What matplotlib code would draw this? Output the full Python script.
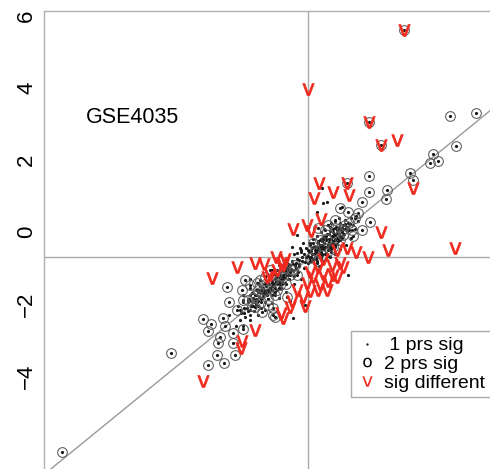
import matplotlib
matplotlib.use("Agg")
import matplotlib.pyplot as plt
from matplotlib.lines import Line2D

plt.rcParams['font.family'] = ['Liberation Sans', 'DejaVu Sans']

# 1 prs sig (small dots)
sig1_x = [-0.05, 0.02, 0.05, 0.10, 0.12, 0.15, 0.18, 0.20, 0.22, 0.25,
          0.28, 0.30, 0.32, 0.35, 0.36, 0.38, 0.40, 0.42, 0.44, 0.46,
          0.48, 0.50, 0.52, 0.54, 0.56, 0.58, 0.60, 0.62, 0.64, 0.66,
          0.68, 0.70, 0.72, 0.74, 0.76, 0.78, 0.80, 0.83, 0.85, 0.88,
          0.90, 0.93, 0.96, 1.00, 1.03, 1.06, 1.10, 1.15, 1.20, 1.25,
          1.32, 1.40, 0.45, 0.55, 0.65, 0.35, 0.25, 0.75, 0.60,
          0.00, 0.00, 0.00, 0.08, 0.08, 0.14, 0.14, 0.14, 0.21, 0.21,
          0.27, 0.27, 0.27, 0.33, 0.33, 0.39, 0.39, 0.39, 0.45, 0.45,
          0.45, 0.51, 0.51, 0.51, 0.57, 0.57, 0.57, 0.63, 0.63, 0.63,
          0.69, 0.69, 0.69, 0.75, 0.75, 0.75, 0.81, 0.81, 0.81, 0.87,
          0.87, 0.87, 0.95, 0.95, 0.95, 1.02, 1.02, 1.09, 1.09, 1.17,
          0.05, 0.15, 0.25, 0.35, 0.45, 0.55, 0.65, 0.85, 0.30, 0.45,
          0.60, 0.75, 0.90, 1.05, 1.20, 1.30, 0.20, 0.50,
          -1.95, -1.90, -1.85, -1.80, -1.75, -1.70, -1.65, -1.62, -1.58, -1.55,
          -1.50, -1.47, -1.44, -1.40, -1.36, -1.33, -1.30, -1.26, -1.22, -1.20,
          -1.16, -1.12, -1.10, -1.06, -1.03, -1.00, -0.97, -0.94, -0.91, -0.88,
          -0.85, -0.82, -0.79, -0.76, -0.73, -0.70, -0.66, -0.63, -0.60, -0.56,
          -0.52, -0.48, -0.44, -0.40, -0.36, -0.32, -0.28, -0.24, -0.18, -0.12,
          -0.08, -1.00, -0.90, -0.80, -0.70, -1.10, -0.60, -0.95, -0.75, -1.25,
          -1.15, -0.55, -0.85,
          -1.88, -1.78, -1.78, -1.68, -1.68, -1.60, -1.60, -1.60, -1.52, -1.52,
          -1.45, -1.45, -1.45, -1.38, -1.38, -1.31, -1.31, -1.31, -1.24, -1.24,
          -1.18, -1.18, -1.18, -1.08, -1.08, -1.08, -1.01, -1.01, -0.93, -0.93,
          -0.93, -0.86, -0.86, -0.86, -0.78, -0.78, -0.78, -0.71, -0.71, -0.64,
          -0.64, -0.64, -0.57, -0.57, -0.50, -0.50, -0.42, -0.42, -0.34, -0.34,
          -0.26, -0.26, -0.16, -0.20, -0.10, 0.05, -0.05,
          -1.80, -1.80, -1.60, -1.60, -1.40, -1.40, -1.20, -1.20, -1.00, -1.00,
          -0.80, -0.80, -0.60, -0.60, -0.40, -0.40, -0.20, -0.20,
          -0.31, -0.44, -0.22, -0.31, 0.42, 0.53, 0.39, 1.11, -0.42, -0.08,
          0.25, -0.15, 0.95, -2.20, -2.00, -0.50, -1.60]
sig1_y = [-0.70, -0.55, -0.80, -0.62, -0.45, -0.75, -0.58, -0.40, -0.68, -0.50,
          -0.30, -0.62, -0.45, -0.20, -0.55, -0.35, -0.48, -0.15, -0.30, -0.60,
          -0.40, -0.22, -0.05, -0.35, -0.50, -0.18, -0.30, 0.02, -0.42, -0.12,
          -0.25, 0.08, -0.05, -0.35, -0.18, 0.15, -0.02, -0.25, 0.10, 0.25,
          -0.10, 0.05, 0.20, -0.05, 0.35, 0.12, 0.25, 0.05, 0.40, 0.20,
          0.45, 0.30, -0.10, -0.65, -0.55, -0.72, -0.85, 0.30, 0.15,
          -0.65, -0.85, -0.50, -0.70, -0.52, -0.60, -0.40, -0.80, -0.55, -0.75,
          -0.42, -0.62, -0.25, -0.52, -0.35, -0.60, -0.25, -0.42, -0.48, -0.30,
          -0.18, -0.40, -0.58, -0.12, -0.28, -0.42, -0.05, -0.35, -0.18, -0.48,
          -0.10, -0.30, 0.00, -0.22, -0.08, -0.40, 0.05, -0.15, -0.32, -0.05,
          0.15, -0.20, 0.00, 0.12, -0.15, 0.10, 0.22, 0.15, 0.02, 0.22,
          -0.30, -0.20, -0.10, 0.00, 0.10, 0.20, 0.25, 0.40, -0.95, -0.80,
          -0.70, -0.62, -0.48, -0.35, -0.15, 0.10, -0.95, -0.75,
          -2.05, -2.45, -2.25, -1.95, -2.35, -2.10, -1.85, -2.30, -2.05, -1.70,
          -2.20, -1.95, -1.60, -2.05, -1.80, -1.50, -2.10, -1.72, -1.45, -1.95,
          -1.60, -1.35, -1.85, -1.55, -1.25, -1.75, -1.45, -1.15, -1.65, -1.35,
          -1.05, -1.55, -1.25, -1.00, -1.45, -1.18, -0.95, -1.40, -1.10, -0.88,
          -1.30, -1.02, -0.80, -1.22, -0.95, -0.75, -1.10, -0.88, -0.70, -1.00,
          -0.82, -1.50, -1.40, -1.35, -1.30, -1.60, -1.20, -1.70, -1.55, -1.80,
          -1.75, -1.05, -1.20,
          -2.15, -2.10, -2.25, -1.95, -2.20, -1.90, -2.15, -1.75, -1.85, -2.05,
          -1.75, -2.00, -1.85, -1.65, -1.90, -1.60, -1.85, -1.70, -1.55, -1.65,
          -1.50, -1.70, -1.40, -1.45, -1.65, -1.30, -1.40, -1.60, -1.30, -1.55,
          -1.40, -1.25, -1.45, -1.15, -1.15, -1.40, -1.30, -1.08, -1.35, -1.05,
          -1.25, -1.15, -0.98, -1.18, -0.92, -1.12, -0.88, -1.05, -0.85, -1.00,
          -0.78, -0.95, -0.80, -0.55, -0.62, -0.35, -0.45,
          -1.75, -2.60, -1.55, -2.45, -1.40, -2.30, -1.22, -2.15, -1.05, -1.98,
          -0.90, -1.82, -0.78, -1.65, -0.62, -1.45, -0.50, -1.30,
          -0.08, -0.42, -0.44, -0.58, 0.81, 0.83, 1.22, -1.19, -2.39, -2.03,
          0.55, -0.30, 0.70, -2.30, -2.60, -1.90, -1.30]

# 2 prs sig (circles)
sig2_x = [3.94, 4.67, 4.11, 3.47, 3.39, 3.61, 2.83, 2.92, 1.69, 1.69,
          2.19, 2.17, 1.50, 2.67, 1.69, 2.03, 1.08,
          0.89, 1.11, 1.39, 1.72, 1.50, 1.22, 0.97, 1.31, 0.75,
          0.33, 0.47, 0.61, 0.19, 0.89, 0.06, 0.75, 0.39, 1.03, 0.28,
          0.15, 0.50, 0.70, 0.95, 1.15, 0.55, 0.25, 1.25,
          -1.06, -0.78, -1.19, -0.50, -1.47, -0.64, -0.92, -1.33, -0.36, -1.67,
          -1.40, -1.20, -1.00, -0.85, -0.70, -0.45, -1.10, -1.30, -0.60, -1.55,
          -0.30, -0.90,
          -1.75, -2.25, -1.83, -1.61, -2.19, -1.81, -1.97, -1.53, -1.28, -1.47,
          -1.28, -0.97, -0.97, -1.19, -1.42, -2.92, -2.69, -2.78, -2.36, -2.31,
          -2.50, -2.08, -2.08, -2.53, -2.78, -2.33, -2.03, -1.81, -3.81, -6.83,
          -2.44, -0.92, -0.58, -1.11]
sig2_y = [3.22, 3.31, 2.39, 2.17, 1.92, 1.97, 1.64, 1.44, 1.56, 1.11,
          1.17, 0.92, 0.83, 5.61, 3.06, 2.42, 1.36,
          0.67, 0.56, 0.53, 0.28, 0.06, 0.06, -0.08, 0.39, 0.33,
          -0.22, 0.06, -0.50, -0.50, -0.22, -0.72, 0.11, -0.64, 0.19, 0.11,
          -0.30, -0.20, -0.40, 0.05, 0.25, 0.20, -0.80, -0.10,
          -1.06, -1.47, -1.61, -1.19, -1.75, -1.00, -1.75, -1.33, -0.92, -1.89,
          -1.60, -1.45, -1.35, -1.60, -1.25, -1.05, -1.85, -1.95, -1.45, -2.05,
          -1.20, -1.20,
          -1.33, -1.53, -1.61, -1.47, -1.94, -1.89, -2.17, -1.83, -1.69, -2.08,
          -2.22, -2.31, -2.11, -1.25, -1.42, -2.42, -2.56, -2.75, -2.39, -2.61,
          -3.08, -2.81, -3.08, -3.42, -3.69, -3.64, -3.42, -2.69, -3.36, -6.11,
          -2.92, -2.36, -1.81, -2.03]

# sig different (red v)
diff_x = [2.67, 0.00, 1.69, 2.03, 2.47, 2.92, 0.31, 1.08, 0.69, 1.14,
          0.17, 0.36, -0.42, -0.03, 0.08, 2.03, 2.22, 4.08, 1.67, 1.33,
          1.08, 0.81, 0.42, 0.89, 0.97, 0.28, 0.06, 0.69, 0.42, -2.67,
          -1.97, -1.47, -1.22, -0.89, -0.64, -0.75, -1.14, -0.86, 0.14, -0.03,
          -0.31, 0.06, 0.33, 0.56, 0.81, 0.53, -0.14, -0.44, -0.50, -0.08,
          -0.75, -0.69, -1.47, -1.83, -2.92, -1.06, 0.67, 0.28, -1.86, -0.69]
diff_y = [5.61, 3.97, 3.06, 2.42, 2.56, 1.22, 1.36, 1.36, 1.11, 1.03,
          0.94, 0.36, 0.08, 0.19, 0.03, 0.00, -0.50, -0.44, -0.69, -0.56,
          -0.44, -0.50, -0.75, -0.86, -0.97, -0.97, -1.11, -1.19, -1.17, -1.28,
          -0.97, -0.86, -0.89, -0.69, -0.75, -0.86, -1.25, -1.06, -1.25, -1.42,
          -1.61, -1.64, -1.44, -1.36, -1.25, -1.61, -1.81, -1.92, -2.08, -2.06,
          -2.25, -2.39, -2.72, -3.03, -4.14, -1.19, -0.92, -1.61, -3.22, -0.92]

x_cut = 0.0
y_cut = -0.69
fit_slope = 0.816
fit_icpt = -0.75

yticks = [-4, -2, 0, 2, 4, 6]
labels = [' 1 prs sig', '2 prs sig', 'sig different']
red = '#f02a1e'

fig = plt.figure(figsize=(4.9, 4.69), dpi=100)
ax = fig.add_axes([0.0898, -0.0171, 0.9653, 0.9936])
ax.set_xlim(-7.33, 5.8)
ax.set_ylim(-6.8, 6.14)

ax.axhline(y_cut, color='#aaaaaa', lw=1, zorder=1)
ax.axvline(x_cut, color='#aaaaaa', lw=1, zorder=1)
ax.axline((0, fit_icpt), slope=fit_slope, color='#999999', lw=1, zorder=1)

# every point gets the dot, the 2 prs sig ones also a circle
ax.plot(sig1_x + sig2_x, sig1_y + sig2_y, ls='none', marker='o', ms=2.3,
        mew=0, color='#1a1a1a', zorder=2)
ax.plot(sig2_x, sig2_y, ls='none', marker='o', ms=7, mfc='none',
        mec='#5a5a5a', mew=0.75, zorder=3)
ax.plot(diff_x, diff_y, ls='none', marker=r'$\mathsf{v}$', ms=8.5,
        color=red, mew=0.5, zorder=4)

ax.text(-4.86, 3.19, 'GSE4035', fontsize=15.5, ha='center', va='center')

ax.set_xticks([])
ax.set_yticks(yticks)
ax.tick_params(axis='y', length=0, pad=5, labelsize=16)
for t in ax.get_yticklabels():
    t.set_rotation(90)
    t.set_va('center')
for s in ax.spines.values():
    s.set_color('#b0b0b0')
    s.set_linewidth(1)

handles = [
    Line2D([], [], ls='none', marker='o', ms=1.7, mew=0, color='#222222'),
    Line2D([], [], ls='none', marker=r'$\mathsf{o}$', ms=7, mew=0, color='black'),
    Line2D([], [], ls='none', marker=r'$\mathsf{v}$', ms=7.5, mew=0, color=red),
]
leg = ax.legend(handles, labels, loc='upper left',
                bbox_to_anchor=(351 / 490, 1 - 331 / 469),
                bbox_transform=fig.transFigure, borderaxespad=0,
                fancybox=False, framealpha=1, edgecolor='#aaaaaa',
                fontsize=14, handlelength=1.0, handletextpad=0.4,
                borderpad=0.3, labelspacing=0.05)
leg.get_frame().set_linewidth(1)

fig.savefig('out.png', dpi=100)
